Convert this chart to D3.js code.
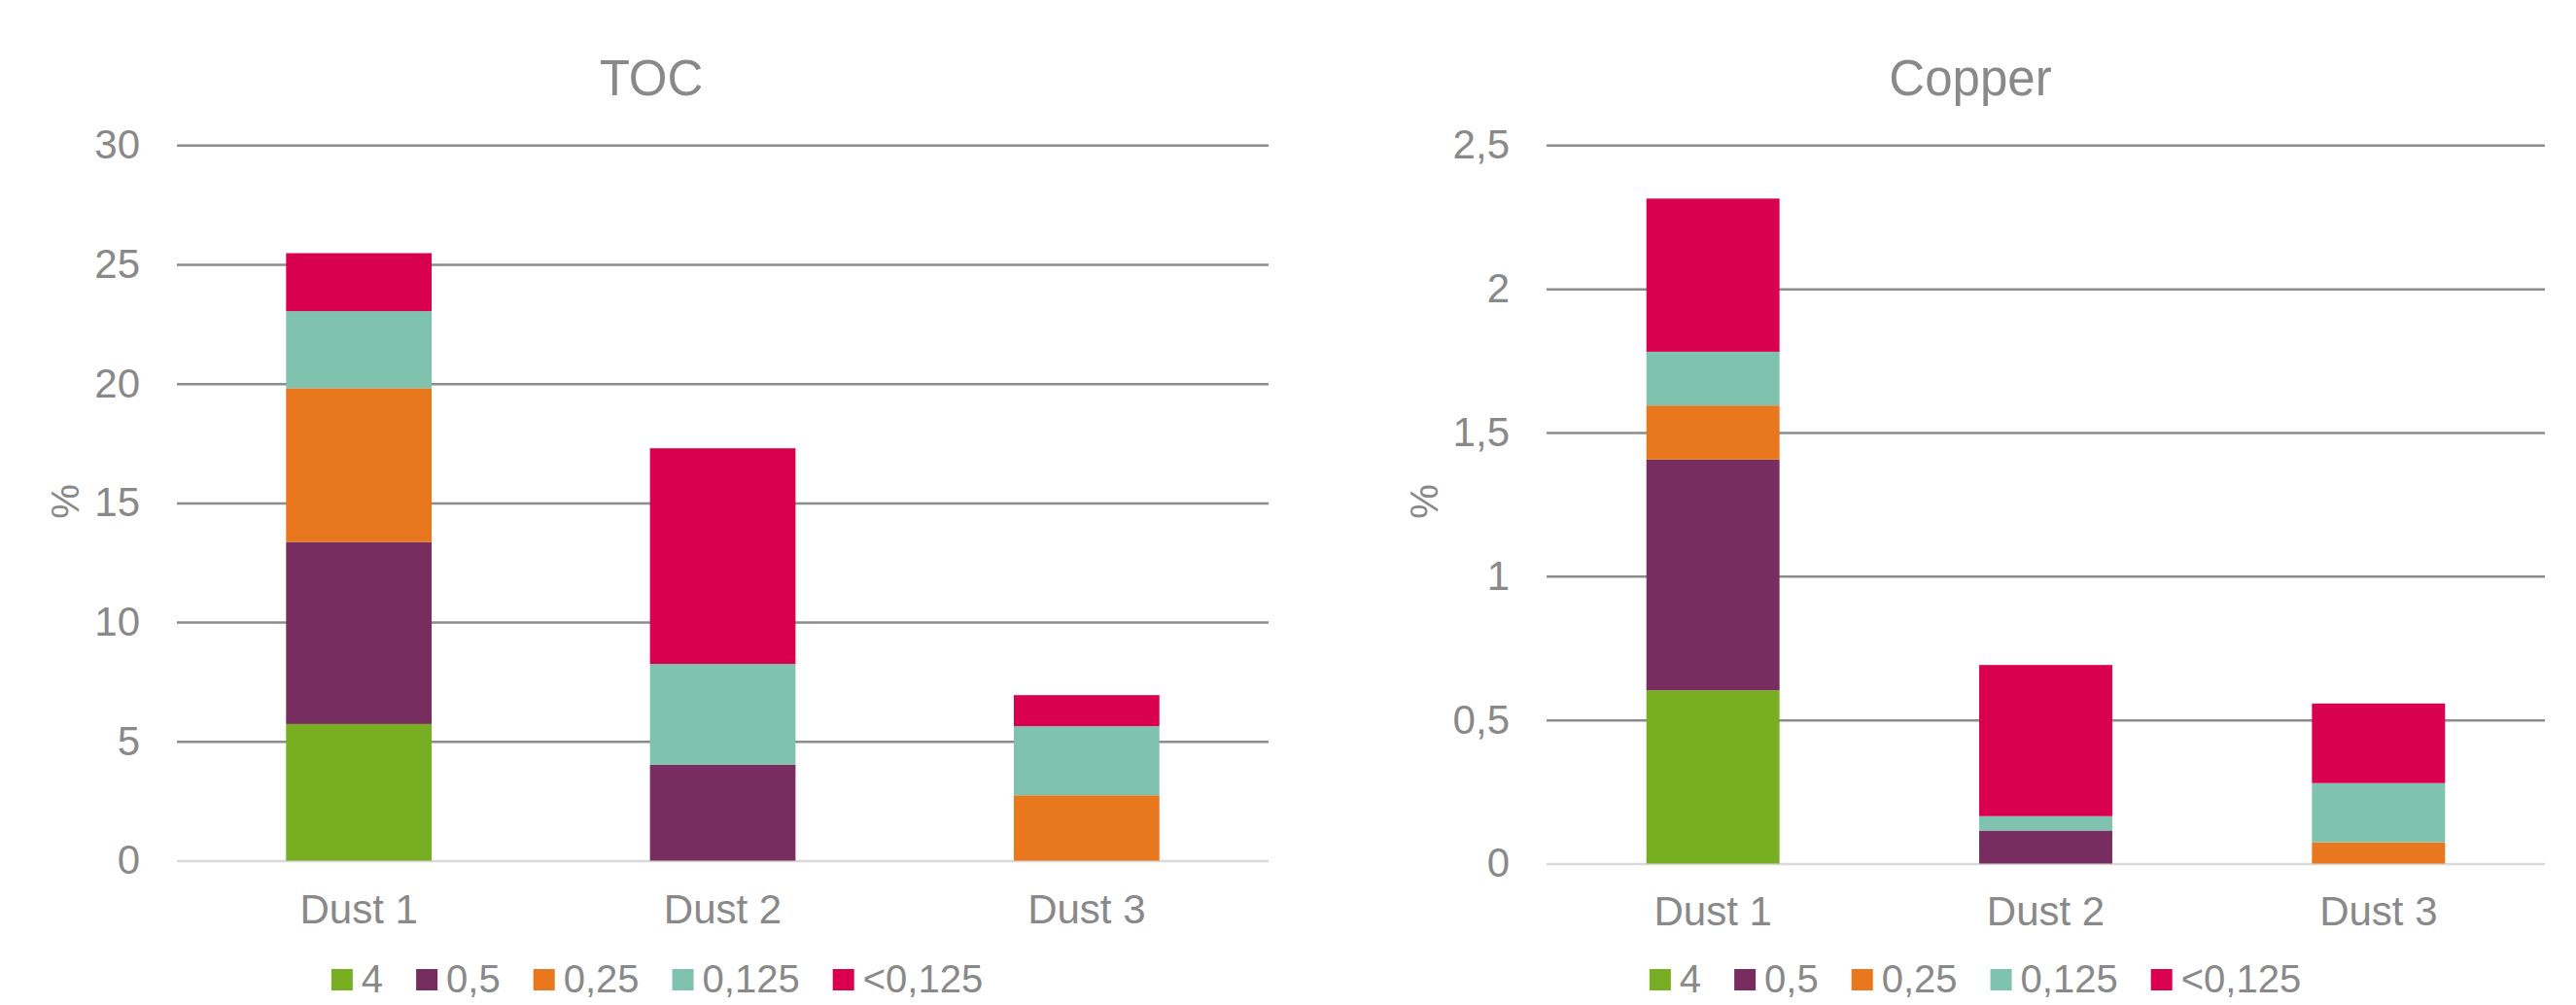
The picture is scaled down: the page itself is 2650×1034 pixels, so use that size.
<!DOCTYPE html>
<meta charset="utf-8">
<style>

body {
  margin: 0;
  background: #fff;
}

text {
  font-family: "Liberation Sans", Arial, sans-serif;
  fill: #898989;
}

</style>
<body>
<script src="https://cdn.jsdelivr.net/npm/d3@7/dist/d3.min.js"></script>
<script>

var width = 2650,
    height = 1034;

var categories = ["Dust 1", "Dust 2", "Dust 3"];
var fractions = ["4", "0,5", "0,25", "0,125", "<0,125"];
var colors = ["#78af22", "#772d60", "#e8771e", "#7fc3af", "#d90050"];

// one row per dust, columns follow fractions
var tocValues = [
  [5.73, 7.63, 6.45, 3.23, 2.43],
  [0, 4.03, 0, 4.22, 9.04],
  [0, 0, 2.74, 2.90, 1.30]
];
var copperValues = [
  [0.603, 0.803, 0.188, 0.187, 0.533],
  [0, 0.115, 0, 0.05, 0.526],
  [0, 0, 0.074, 0.206, 0.277]
];

var tocTicks = [0, 5, 10, 15, 20, 25, 30];
var copperTicks = [0, 0.5, 1, 1.5, 2, 2.5];

var svg = d3.select("body").append("svg")
    .attr("width", width)
    .attr("height", height);

function comma(v) {
  return String(v).replace(".", ",");
}

function drawChart(opts) {
  var g = svg.append("g");

  var x = d3.scaleBand()
      .domain(categories)
      .range([opts.x0, opts.x1])
      .paddingInner(0.6)
      .paddingOuter(0.3);

  var y = d3.scaleLinear()
      .domain([0, opts.max])
      .range([opts.y0, 149.3]);

  // gridlines + tick labels
  var yAxis = g.append("g")
      .attr("transform", "translate(" + opts.x0 + ",0)")
      .call(d3.axisLeft(y)
        .tickValues(opts.ticks)
        .tickSize(-(opts.x1 - opts.x0))
        .tickPadding(38)
        .tickFormat(comma));
  yAxis.select(".domain").remove();
  yAxis.selectAll(".tick line")
      .attr("stroke", function(d) { return d === 0 ? "#d9d9d9" : "#8c8c8c"; })
      .attr("stroke-width", 2.5);
  yAxis.selectAll(".tick text")
      .attr("font-size", 42)
      .attr("font-family", null)
      .attr("fill", null);

  // stacked bars
  var rows = categories.map(function(c, i) {
    var o = {cat: c};
    fractions.forEach(function(f, j) { o[f] = opts.values[i][j]; });
    return o;
  });
  var stack = d3.stack().keys(fractions)(rows);

  g.selectAll(".layer")
      .data(stack)
    .enter().append("g")
      .attr("fill", function(d, i) { return colors[i]; })
    .selectAll("rect")
      .data(function(d) { return d; })
    .enter().append("rect")
      .attr("x", function(d) { return x(d.data.cat); })
      .attr("width", x.bandwidth())
      .attr("y", function(d) { return y(d[1]); })
      .attr("height", function(d) { return y(d[0]) - y(d[1]); });

  // category axis
  var xAxis = g.append("g")
      .attr("transform", "translate(0," + opts.y0 + ")")
      .call(d3.axisBottom(x).tickSize(0).tickPadding(opts.catPad));
  xAxis.select(".domain").remove();
  xAxis.selectAll(".tick text")
      .attr("font-size", 42)
      .attr("font-family", null)
      .attr("fill", null);

  // title
  g.append("text")
      .attr("x", opts.cx)
      .attr("y", 97.5)
      .attr("text-anchor", "middle")
      .attr("font-size", 51)
      .text(opts.title);

  // y label
  g.append("text")
      .attr("transform", "translate(" + opts.labelX + ",516) rotate(-90)")
      .attr("text-anchor", "middle")
      .attr("dy", "0.35em")
      .attr("font-size", 40)
      .text("%");

  // legend
  var leg = g.append("g");
  var items = leg.selectAll("g")
      .data(fractions)
    .enter().append("g");
  items.append("rect")
      .attr("width", 22)
      .attr("height", 22)
      .attr("y", 997)
      .attr("fill", function(d, i) { return colors[i]; });
  items.append("text")
      .attr("x", 31)
      .attr("y", 1021)
      .attr("font-size", 40)
      .text(function(d) { return d; });

  var pos = 0;
  items.each(function() {
    var w = 31 + d3.select(this).select("text").node().getComputedTextLength();
    d3.select(this).attr("transform", "translate(" + pos + ",0)");
    pos += w + 34;
  });
  var total = pos - 34;
  leg.attr("transform", "translate(" + (opts.legendCx - total / 2) + ",0)");
}

drawChart({
  title: "TOC",
  values: tocValues,
  ticks: tocTicks,
  max: 30,
  x0: 182, x1: 1305,
  y0: 885.5,
  catPad: 35,
  cx: 670,
  labelX: 67,
  legendCx: 676
});

drawChart({
  title: "Copper",
  values: copperValues,
  ticks: copperTicks,
  max: 2.5,
  x0: 1591, x1: 2618,
  y0: 888.5,
  catPad: 34,
  cx: 2027,
  labelX: 1465,
  legendCx: 2032
});

</script>
